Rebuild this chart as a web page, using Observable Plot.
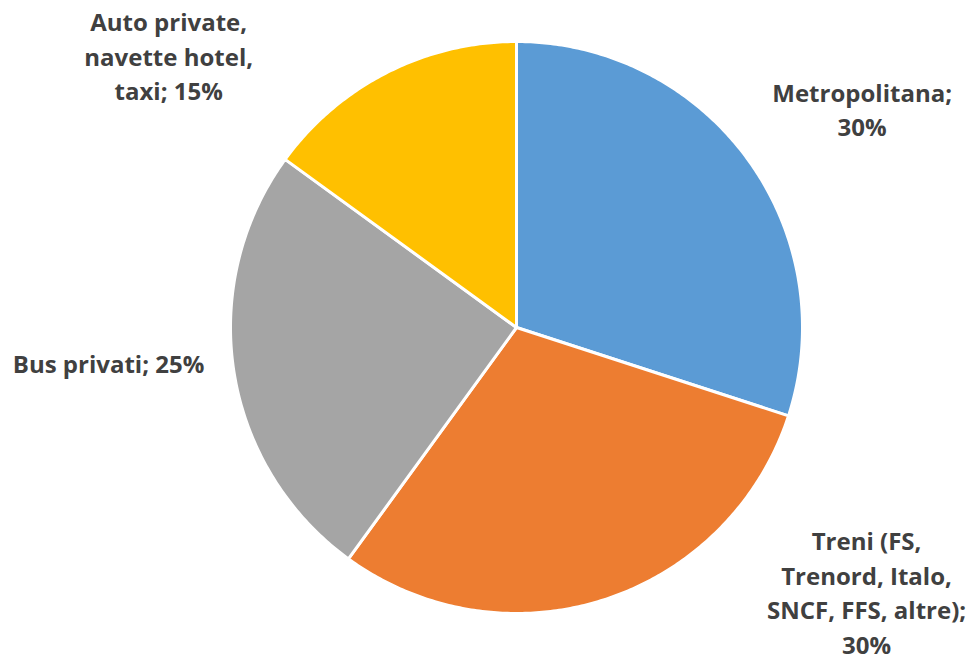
<!DOCTYPE html>
<html><head><meta charset="utf-8">
<script src="https://cdn.jsdelivr.net/npm/d3@7"></script>
<script src="https://cdn.jsdelivr.net/npm/@observablehq/plot@0.6"></script>
<style>body{margin:0;background:#fff}</style>
</head><body><div id="chart"></div>
<script>
const categories = ["Metropolitana", "Treni (FS,\nTrenord, Italo,\nSNCF, FFS, altre)", "Bus privati", "Auto private,\nnavette hotel,\ntaxi"];
const values = [30, 30, 25, 15];
const colors = ["#5B9BD5", "#ED7D31", "#A5A5A5", "#FFC000"];
const labelText = ["Metropolitana;\n30%", "Treni (FS,\nTrenord, Italo,\nSNCF, FFS, altre);\n30%", "Bus privati; 25%", "Auto private,\nnavette hotel,\ntaxi; 15%"];

const labelOffsets = [[68, -18], [244, -63], [-69, -19], [-192, 33]]; // layout nudges in px

const arcs = d3.pie().sort(null).value(d => d)(values);
const pts = [];
arcs.forEach((a, i) => {
  pts.push({i, x: 0, y: 0});
  const n = Math.max(2, Math.ceil((a.endAngle - a.startAngle) / 0.01));
  for (let k = 0; k <= n; k++) {
    const t = a.startAngle + (a.endAngle - a.startAngle) * k / n;
    pts.push({i, x: Math.sin(t), y: Math.cos(t)});
  }
});

const labelMarks = arcs.map((a, i) => {
  const m = (a.startAngle + a.endAngle) / 2;
  return Plot.text([{x: 1.2 * Math.sin(m), y: 1.2 * Math.cos(m), t: labelText[i]}], {
    x: "x", y: "y", text: "t", dx: labelOffsets[i][0], dy: labelOffsets[i][1],
    fontSize: 24, fontWeight: "bold", fill: "#404040", lineHeight: 1.44,
    textAnchor: "middle", lineAnchor: "middle",
    fontFamily: "'Open Sans', sans-serif"
  });
});

const chart = Plot.plot({
  width: 973, height: 662,
  margin: 0,
  x: {domain: [-1, 1], range: [230, 802], axis: null},
  y: {domain: [-1, 1], range: [613, 41], axis: null},
  marks: [
    Plot.line(pts, {x: "x", y: "y", z: "i", fill: d => colors[d.i], stroke: "white", strokeWidth: 3, strokeLinejoin: "round", curve: "linear-closed"}),
    ...labelMarks
  ]
});
chart.style.overflow = "visible";
document.getElementById("chart").appendChild(chart);
</script></body></html>
